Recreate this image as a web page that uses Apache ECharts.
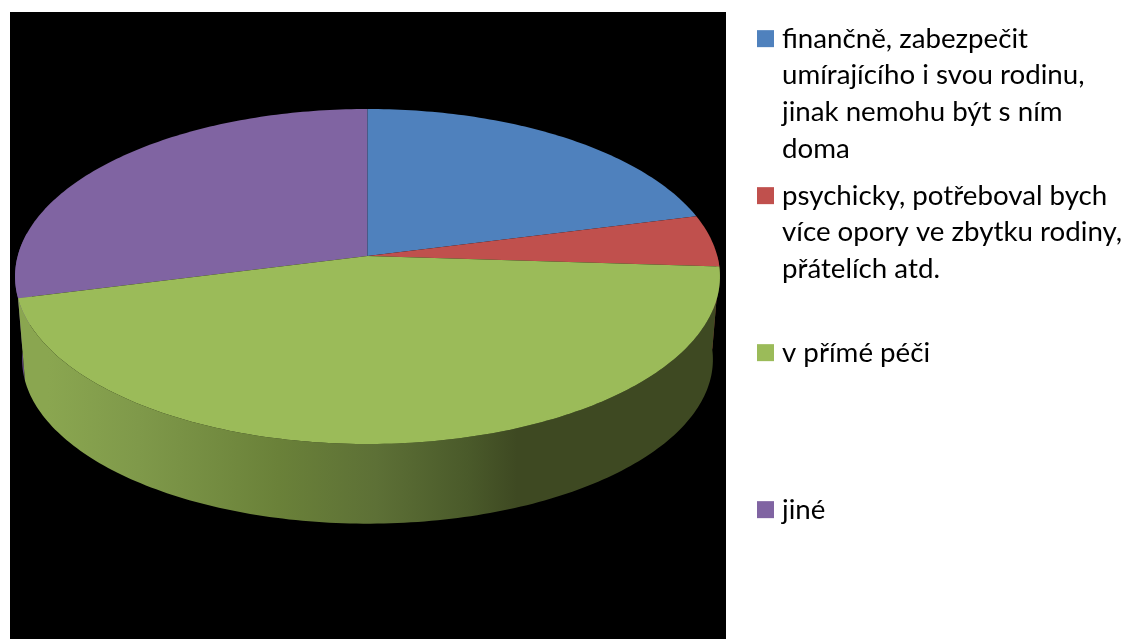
<!DOCTYPE html>
<html>
<head>
<meta charset="utf-8">
<style>html,body{margin:0;padding:0;background:#fff}#c{width:1125px;height:639px}</style>
<script src="https://cdn.jsdelivr.net/npm/echarts@6/dist/echarts.min.js"></script>
</head>
<body>
<div id="c"></div>
<script>
const legendLines = [
  ["finančně, zabezpečit", "umírajícího i svou rodinu,", "jinak nemohu být s ním", "doma"],
  ["psychicky, potřeboval bych", "více opory ve zbytku rodiny,", "přátelích atd."],
  ["v přímé péči"],
  ["jiné"]
];
const categories = legendLines.map(l => l.join(" "));
const values = [21, 5, 45, 29];
const colors = ["#4f81bd", "#c0504d", "#9bbb59", "#8064a2"];
const wallColors = ["#3a5a80", "#8a3a38", "#7c9749", "#5f4a7c"];
const legendTops = [30, 187, 344, 501];
const seriesZ = [3, 3, 3, 2];

const total = values.reduce((a, b) => a + b, 0);
const starts = values.map((_, i) => values.slice(0, i).reduce((a, b) => a + b, 0));

// perspective projection of the round disc onto the screen
const K = 0.1224, A = 165, B = 349.8, CX = 367.5, TOP_Y = 256, BOT_Y = 339.4, BOT_S = 0.98;
function project(deg, baseY, s) {
  const t = deg * Math.PI / 180, u = Math.sin(t), v = Math.cos(t), w = 1 + K * v;
  return [CX + s * B * u / w, baseY - s * A * v / w];
}
function rim(a, b, baseY, s) {
  const n = Math.max(2, Math.ceil((b - a) / 1)), pts = [];
  for (let i = 0; i <= n; i++) pts.push(project(a + (b - a) * i / n, baseY, s));
  return pts;
}
const wallGradient = {
  type: "linear", x: 20, y: 0, x2: 720, y2: 0, global: true,
  colorStops: [
    { offset: 0.04, color: "#8aa650" }, { offset: 0.17, color: "#7f994a" },
    { offset: 0.37, color: "#6a8139" }, { offset: 0.51, color: "#5d7036" },
    { offset: 0.64, color: "#4a5a2a" }, { offset: 0.71, color: "#3e4922" },
    { offset: 1, color: "#3e4922" }
  ]
};
function slice(i) {
  return function (params, api) {
    const a = api.value(0) / total * 360, b = a + api.value(1) / total * 360;
    const children = [];
    const wa = Math.max(a, 90), wb = Math.min(b, 278);
    if (wb > wa) {
      children.push({
        type: "polygon",
        shape: { points: rim(wa, wb, TOP_Y, 1).concat(rim(wa, wb, BOT_Y, BOT_S).reverse()) },
        style: { fill: i === 2 ? wallGradient : wallColors[i] }
      });
    }
    children.push({
      type: "polygon",
      shape: { points: [project(0, TOP_Y, 0)].concat(rim(a, b, TOP_Y, 1)) },
      style: { fill: colors[i] }
    });
    return { type: "group", children };
  };
}
const FONT = "Lato", SIZE = 27.7, LH = 37.3;
const chart = echarts.init(document.getElementById("c"), null, { renderer: "canvas" });
chart.setOption({
  animation: false,
  backgroundColor: "#ffffff",
  graphic: [{ type: "rect", z: -1, shape: { x: 10, y: 12, width: 716, height: 627 }, style: { fill: "#000000" } }],
  legend: categories.map((c, i) => ({
    data: [c], left: 757, top: legendTops[i] - 10, padding: 0,
    orient: "vertical", icon: "rect", itemWidth: 17, itemHeight: 17, itemGap: 0,
    selectedMode: false,
    formatter: () => legendLines[i][0],
    textStyle: { fontFamily: FONT, fontSize: SIZE, color: "#000", padding: [0, 0, 0, 3], lineHeight: LH }
  })),
  title: legendLines.map((l, i) => ({
    show: l.length > 1,
    text: l.slice(1).join("\n"),
    left: 782, top: legendTops[i] + 26, padding: 0,
    textStyle: { fontFamily: FONT, fontSize: SIZE, fontWeight: "normal", color: "#000", lineHeight: LH }
  })),
  series: categories.map((c, i) => ({
    type: "custom", name: c, coordinateSystem: "none", silent: true, z: seriesZ[i],
    itemStyle: { color: colors[i] },
    renderItem: slice(i),
    data: [[starts[i], values[i]]]
  }))
});
</script>
</body>
</html>
